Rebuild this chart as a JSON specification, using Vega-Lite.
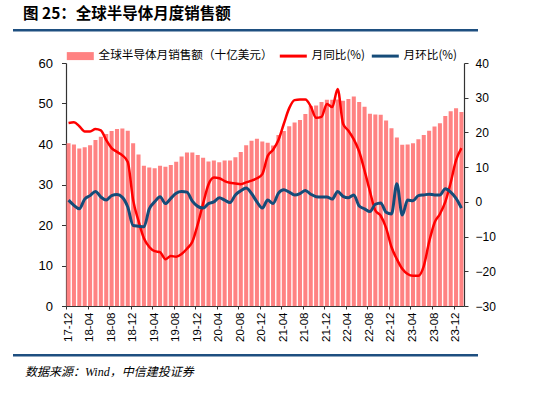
{
  "$schema": "https://vega.github.io/schema/vega-lite/v6.json",
  "background": "white",
  "padding": {"left": 13, "top": 6, "right": 0, "bottom": 0},
  "title": {"text": "图 25：全球半导体月度销售额", "anchor": "start", "dx": 10, "fontSize": 15.5, "font": "Noto Sans CJK SC", "fontWeight": "bold", "color": "#000", "offset": 7},
  "spacing": 12,
  "resolve": {"scale": {"color": "independent"}, "legend": {"color": "independent"}},
  "config": {
    "view": {"stroke": null},
    "font": "Noto Sans CJK SC",
    "axis": {"labelFont": "Liberation Sans", "domainColor": "#333", "tickColor": "#333", "labelColor": "#000", "grid": false}
  },
  "vconcat": [
    {
      "width": 465, "height": 8.5,
      "data": {"values": [{"a": 0}]},
      "mark": {"type": "rect", "fill": "#1E4F80", "clip": false},
      "encoding": {
        "x": {"datum": 0, "type": "quantitative", "scale": {"domain": [0, 1], "nice": false, "zero": false}, "axis": null},
        "x2": {"datum": 1},
        "y": {"datum": 0.7, "type": "quantitative", "scale": {"domain": [0, 1], "nice": false, "zero": false}, "axis": null},
        "y2": {"datum": 1}
      }
    },
    {
      "hconcat": [
        {
          "width": 25, "height": 243,
          "data": {"values": [{}]},
          "mark": {"type": "point", "opacity": 0},
          "encoding": {}
        },
        {
          "width": 398, "height": 243,
          "data": {"values": [
            {"m": "17-12", "sales": 40.2, "yoy": 22.7, "mom": 0.5},
            {"m": "18-01", "sales": 39.9, "yoy": 22.9, "mom": -1.0},
            {"m": "18-02", "sales": 38.9, "yoy": 21.8, "mom": -2.0},
            {"m": "18-03", "sales": 39.2, "yoy": 20.3, "mom": 0.8},
            {"m": "18-04", "sales": 39.7, "yoy": 20.3, "mom": 1.8},
            {"m": "18-05", "sales": 41.0, "yoy": 21.0, "mom": 3.0},
            {"m": "18-06", "sales": 41.8, "yoy": 20.6, "mom": 1.4},
            {"m": "18-07", "sales": 42.5, "yoy": 17.8, "mom": 0.5},
            {"m": "18-08", "sales": 43.2, "yoy": 15.5, "mom": 1.8},
            {"m": "18-09", "sales": 43.7, "yoy": 14.4, "mom": 2.1},
            {"m": "18-10", "sales": 43.8, "yoy": 13.4, "mom": 1.3},
            {"m": "18-11", "sales": 43.3, "yoy": 11.5, "mom": -1.5},
            {"m": "18-12", "sales": 40.2, "yoy": 0.5, "mom": -6.8},
            {"m": "19-01", "sales": 37.4, "yoy": -5.5, "mom": -7.0},
            {"m": "19-02", "sales": 34.6, "yoy": -10.5, "mom": -7.2},
            {"m": "19-03", "sales": 34.2, "yoy": -13.0, "mom": -2.0},
            {"m": "19-04", "sales": 34.0, "yoy": -14.2, "mom": 0.0},
            {"m": "19-05", "sales": 34.6, "yoy": -14.5, "mom": 1.5},
            {"m": "19-06", "sales": 34.4, "yoy": -16.5, "mom": -0.5},
            {"m": "19-07", "sales": 34.8, "yoy": -15.6, "mom": 1.0},
            {"m": "19-08", "sales": 35.6, "yoy": -15.8, "mom": 2.5},
            {"m": "19-09", "sales": 36.9, "yoy": -15.0, "mom": 3.0},
            {"m": "19-10", "sales": 37.9, "yoy": -13.5, "mom": 2.8},
            {"m": "19-11", "sales": 37.9, "yoy": -11.5, "mom": 0.2},
            {"m": "19-12", "sales": 37.3, "yoy": -6.5, "mom": -1.3},
            {"m": "20-01", "sales": 36.6, "yoy": -0.5, "mom": -1.8},
            {"m": "20-02", "sales": 35.7, "yoy": 5.0, "mom": -0.5},
            {"m": "20-03", "sales": 35.9, "yoy": 7.0, "mom": 0.0},
            {"m": "20-04", "sales": 35.5, "yoy": 6.8, "mom": 1.2},
            {"m": "20-05", "sales": 35.9, "yoy": 6.0, "mom": 0.5},
            {"m": "20-06", "sales": 35.9, "yoy": 5.5, "mom": -0.2},
            {"m": "20-07", "sales": 36.7, "yoy": 5.3, "mom": 2.0},
            {"m": "20-08", "sales": 38.0, "yoy": 5.1, "mom": 3.2},
            {"m": "20-09", "sales": 39.7, "yoy": 5.6, "mom": 4.0},
            {"m": "20-10", "sales": 40.8, "yoy": 6.1, "mom": 2.4},
            {"m": "20-11", "sales": 41.3, "yoy": 6.8, "mom": 0.0},
            {"m": "20-12", "sales": 40.6, "yoy": 8.0, "mom": -1.8},
            {"m": "21-01", "sales": 40.3, "yoy": 13.2, "mom": 0.5},
            {"m": "21-02", "sales": 39.6, "yoy": 15.0, "mom": -0.5},
            {"m": "21-03", "sales": 42.2, "yoy": 17.8, "mom": 2.5},
            {"m": "21-04", "sales": 43.2, "yoy": 22.5, "mom": 3.5},
            {"m": "21-05", "sales": 44.4, "yoy": 27.0, "mom": 2.8},
            {"m": "21-06", "sales": 45.3, "yoy": 29.3, "mom": 2.0},
            {"m": "21-07", "sales": 45.9, "yoy": 29.5, "mom": 2.4},
            {"m": "21-08", "sales": 47.4, "yoy": 29.5, "mom": 3.3},
            {"m": "21-09", "sales": 49.4, "yoy": 27.5, "mom": 2.2},
            {"m": "21-10", "sales": 49.5, "yoy": 24.2, "mom": 1.5},
            {"m": "21-11", "sales": 50.4, "yoy": 24.5, "mom": 1.4},
            {"m": "21-12", "sales": 50.9, "yoy": 28.2, "mom": 1.4},
            {"m": "22-01", "sales": 50.9, "yoy": 27.3, "mom": 0.8},
            {"m": "22-02", "sales": 51.0, "yoy": 32.5, "mom": 3.0},
            {"m": "22-03", "sales": 50.7, "yoy": 22.5, "mom": 1.6},
            {"m": "22-04", "sales": 51.1, "yoy": 20.5, "mom": 1.2},
            {"m": "22-05", "sales": 51.7, "yoy": 18.0, "mom": 2.0},
            {"m": "22-06", "sales": 50.4, "yoy": 14.5, "mom": -1.2},
            {"m": "22-07", "sales": 49.2, "yoy": 9.0, "mom": -2.0},
            {"m": "22-08", "sales": 47.5, "yoy": 3.0, "mom": -2.8},
            {"m": "22-09", "sales": 47.3, "yoy": -2.5, "mom": -0.7},
            {"m": "22-10", "sales": 47.2, "yoy": -4.0, "mom": -0.3},
            {"m": "22-11", "sales": 45.8, "yoy": -7.5, "mom": -3.0},
            {"m": "22-12", "sales": 43.9, "yoy": -13.0, "mom": -3.5},
            {"m": "23-01", "sales": 41.6, "yoy": -16.5, "mom": 5.2},
            {"m": "23-02", "sales": 39.8, "yoy": -19.3, "mom": -3.8},
            {"m": "23-03", "sales": 39.9, "yoy": -20.8, "mom": 0.5},
            {"m": "23-04", "sales": 40.2, "yoy": -21.3, "mom": 0.3},
            {"m": "23-05", "sales": 41.2, "yoy": -21.3, "mom": 1.8},
            {"m": "23-06", "sales": 42.2, "yoy": -18.5, "mom": 2.0},
            {"m": "23-07", "sales": 43.3, "yoy": -11.5, "mom": 2.2},
            {"m": "23-08", "sales": 44.3, "yoy": -6.0, "mom": 2.0},
            {"m": "23-09", "sales": 45.1, "yoy": -3.5, "mom": 2.0},
            {"m": "23-10", "sales": 46.9, "yoy": 0.0, "mom": 3.8},
            {"m": "23-11", "sales": 48.1, "yoy": 5.5, "mom": 2.8},
            {"m": "23-12", "sales": 48.8, "yoy": 12.0, "mom": 1.0},
            {"m": "24-01", "sales": 47.9, "yoy": 15.5, "mom": -1.8}
          ]},
          "encoding": {
            "x": {
              "field": "m", "type": "ordinal", "sort": null,
              "scale": {"paddingInner": 0.25, "paddingOuter": 0.1},
              "axis": {
                "title": null, "values": ["17-12","18-04","18-08","18-12","19-04","19-08","19-12","20-04","20-08","20-12","21-04","21-08","21-12","22-04","22-08","22-12","23-04","23-08","23-12"],
                "labelAngle": 270, "labelFontSize": 11.5, "labelPadding": 3, "tickSize": 3, "bandPosition": 0, "domainWidth": 1.2
              }
            }
          },
          "layer": [
            {
              "mark": {"type": "bar"},
              "encoding": {
                "y": {"field": "sales", "type": "quantitative", "scale": {"domain": [0, 60], "nice": false},
                  "axis": {"values": [0,10,20,30,40,50,60], "labelFontSize": 13, "tickSize": 4.5, "labelPadding": 9, "domainWidth": 1.2, "title": null}},
                "color": {
                  "datum": "全球半导体月销售额（十亿美元）",
                  "scale": {"domain": ["全球半导体月销售额（十亿美元）", "月同比(%)", "月环比(%)"], "range": ["#FF8282", "#FF0000", "#154C79"]},
                  "legend": {
                    "orient": "top", "direction": "horizontal", "title": null, "offset": 1, "padding": 0,
                    "labelFont": "Noto Sans CJK SC", "labelFontSize": 11.6, "labelColor": "#000", "labelLimit": 400,
                    "symbolType": "M-1,-0.8H4.4V0.8H-1Z", "symbolSize": 100, "symbolStrokeWidth": 0, "symbolOpacity": 1,
                    "labelOffset": 21, "columnPadding": 6,
                    "encode": {"symbols": {"update": {"shape": {"signal": "datum.value === '全球半导体月销售额（十亿美元）' ? 'M-1,-0.8H4.4V0.8H-1Z' : 'M-1,-0.3H4.4V0.3H-1Z'"}}}}
                  }
                }
              }
            },
            {
              "mark": {"type": "line", "strokeWidth": 2.5, "interpolate": "monotone"},
              "encoding": {
                "y": {"field": "yoy", "type": "quantitative", "scale": {"domain": [-30, 40], "nice": false},
                  "axis": {"orient": "right", "values": [-30,-20,-10,0,10,20,30,40], "labelFontSize": 12, "tickSize": 4, "labelPadding": 7, "title": null, "domainWidth": 1.2}},
                "color": {"datum": "月同比(%)"}
              }
            },
            {
              "mark": {"type": "line", "strokeWidth": 3, "interpolate": "monotone"},
              "encoding": {
                "y": {"field": "mom", "type": "quantitative", "scale": {"domain": [-30, 40], "nice": false}, "axis": null},
                "color": {"datum": "月环比(%)"}
              }
            }
          ],
          "resolve": {"scale": {"y": "independent"}, "axis": {"y": "independent"}}
        }
      ],
      "spacing": 0,
      "resolve": {"scale": {"color": "independent"}, "legend": {"color": "independent"}}
    },
    {
      "width": 465, "height": 2.5,
      "data": {"values": [{"a": 0}]},
      "mark": {"type": "rect", "fill": "#1E4F80", "clip": false},
      "encoding": {
        "x": {"datum": 0, "type": "quantitative", "scale": {"domain": [0, 1], "nice": false, "zero": false}, "axis": null},
        "x2": {"datum": 1},
        "y": {"datum": 0, "type": "quantitative", "scale": {"domain": [0, 1], "nice": false, "zero": false}, "axis": null},
        "y2": {"datum": 1}
      },
      "title": {"text": "数据来源：Wind，中信建投证券", "orient": "bottom", "anchor": "start", "dx": 12, "offset": 10, "fontSize": 12, "fontStyle": "italic", "fontWeight": "normal", "font": "Liberation Serif, Noto Sans CJK SC", "color": "#000"}
    }
  ]
}
